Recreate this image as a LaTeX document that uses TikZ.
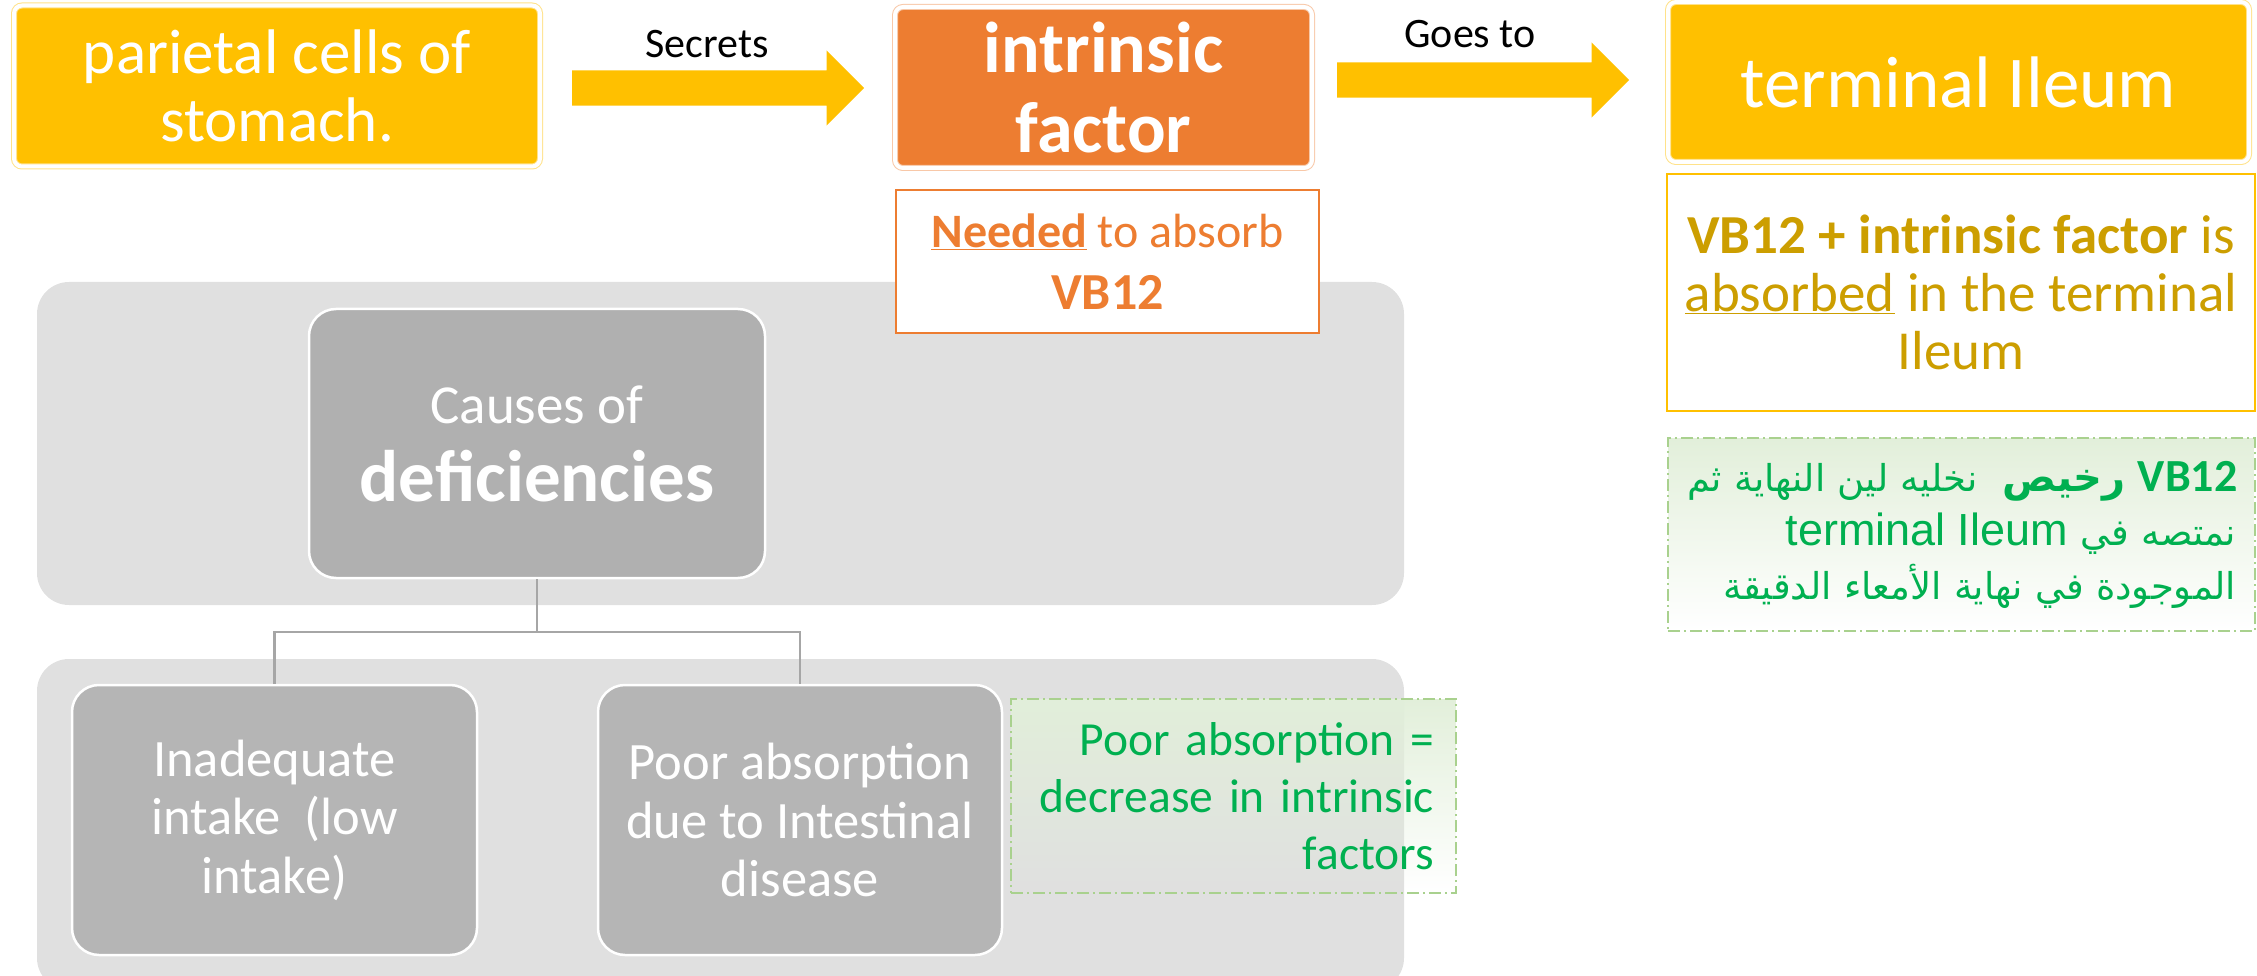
\documentclass[tikz,border=0pt]{standalone}
\usepackage{fontspec}
\setmainfont{Carlito}
\newfontfamily\arabicfont[Script=Arabic]{DejaVu Sans}
\newfontfamily\arialfont{Liberation Sans}
\TeXXeTstate=1
\usetikzlibrary{shapes,arrows,fadings}

\definecolor{yel}{HTML}{FFC000}
\definecolor{yelpale}{HTML}{FFE28A}
\definecolor{org}{HTML}{ED7D31}
\definecolor{orgpale}{HTML}{F8C8A8}
\definecolor{goldtxt}{HTML}{CC9E00}
\definecolor{grn}{HTML}{00B050}
\definecolor{grnline}{HTML}{A9D18E}
\definecolor{grnfill}{HTML}{E2EFDA}
\definecolor{panelgray}{HTML}{E0E0E0}
\definecolor{topgray}{HTML}{B0B0B0}
\definecolor{boxgray}{HTML}{B5B5B5}
\definecolor{linkgray}{HTML}{A6A6A6}
\tikzfading[name=notefade, top color=transparent!0, middle color=transparent!15, bottom color=transparent!100]

\begin{document}
\begin{tikzpicture}[x=1pt, y=-1pt]
\tikzstyle{boxy}=[rectangle, fill=yel, draw=yelpale, line width=1pt, double=white, double distance=4pt, rounded corners=8pt, inner sep=0pt, text=white, align=center]
\tikzstyle{boxo}=[boxy, fill=org, draw=orgpale]
\tikzstyle{boxline}=[rectangle, fill=white, line width=2.5pt, inner sep=0pt, align=center]
\tikzstyle{panel}=[rectangle, fill=panelgray, rounded corners=32pt, inner sep=0pt]
\tikzstyle{boxgr}=[rectangle, fill=boxgray, draw=white, line width=2.5pt, rounded corners=27pt, inner sep=0pt, text=white, align=center, minimum height=270pt]
\tikzstyle{notegreen}=[rectangle, draw=grnline, line width=2pt, dash pattern=on 12pt off 4pt on 2pt off 4pt, preaction={fill=grnfill, path fading=notefade}, inner ysep=0pt, text=grn, align=right]
\tikzstyle{arrowbig}=[single arrow, fill=yel, anchor=tail, inner xsep=0pt, inner ysep=17.5pt, minimum height=292pt, single arrow head extend=20pt, single arrow head indent=0pt, single arrow tip angle=90]
\tikzstyle{labelarrow}=[inner sep=0pt, anchor=base, font=\fontsize{42}{50}\selectfont]
\tikzstyle{linkstyle}=[draw=linkgray, line width=2.5pt]

\useasboundingbox (0,0) rectangle (2257,976);
\clip (0,0) rectangle (2257,976);

\node[panel, minimum width=1367pt, minimum height=323pt] (pantop) at (720.5,443.5) {};
\node[panel, minimum width=1367pt, minimum height=331pt] (panbot) at (720.5,824.5) {};

\node[boxy, minimum width=526pt, minimum height=161pt, font=\fontsize{63}{68}\selectfont] (pc) at (277,86) {parietal cells of\\stomach.};
\node[boxo, minimum width=417pt, minimum height=161pt, font=\fontsize{72}{80}\selectfont\bfseries] (ifac) at (1103.5,87.5) {intrinsic\\factor};
\node[boxy, minimum width=581pt, minimum height=160pt, font=\fontsize{73}{88}\selectfont] (til) at (1958.5,82) {terminal Ileum};
\node[arrowbig] (sec) at (572,88) {};
\node[arrowbig] (goes) at (1337,80) {};
\node[labelarrow] (seclab) at (707,58) {Secrets};
\node[labelarrow] (goeslab) at (1470,48) {Goes to};

\node[boxline, draw=org, text=org, minimum width=423pt, minimum height=143pt, font=\fontsize{48}{62}\selectfont] (need) at (1107.5,261.5) {\textbf{\underline{Needed}} to absorb\\{\fontsize{52}{62}\selectfont\bfseries VB12}};
\node[boxline, draw=yel, text=goldtxt, minimum width=588pt, minimum height=237pt, font=\fontsize{55}{58}\selectfont] (gold) at (1961,292.5) {\textbf{VB12 + intrinsic factor} is\\\underline{absorbed} in the terminal\\Ileum};
\node[notegreen, minimum width=587pt, minimum height=193pt, inner xsep=19pt, text width=549pt, font=\arabicfont\fontsize{37}{54}\selectfont] (arab) at (1961.5,534.5) {\mbox{\beginR\ {\bfseries\beginL{\rmfamily\fontsize{46}{54}\selectfont VB12}\endL{} {\fontsize{40}{54}\selectfont رخيص}}\ \ نخليه لين النهاية ثم\endR}\\\mbox{\beginR نمتصه في \beginL{\arialfont\fontsize{45}{54}\selectfont terminal Ileum}\endL\endR}\\\mbox{\beginR الموجودة في نهاية الأمعاء الدقيقة\endR}};

\node[boxgr, fill=topgray, minimum width=456pt, minimum height=269pt, font=\fontsize{55}{78}\selectfont] (causes) at (537,443.5) {Causes of\\{\fontsize{73}{78}\selectfont\bfseries deficiencies}};
\node[boxgr, minimum width=405pt, font=\fontsize{52.5}{58.5}\selectfont] (inad) at (274.5,820) {Inadequate\\intake\ \ (low\\intake)};
\node[boxgr, minimum width=404pt, font=\fontsize{52.5}{58.5}\selectfont] (poor) at (800,820) {Poor absorption\\due to Intestinal\\disease};
\node[notegreen, minimum width=445pt, minimum height=194pt, inner xsep=22pt, text width=401pt, font=\fontsize{47.5}{57}\selectfont] (note) at (1233.5,796) {Poor absorption =\\decrease in intrinsic\\factors};

\coordinate (fork) at (537,632);
\draw[linkstyle] (causes.south) -- (fork) -| (inad.north);
\draw[linkstyle] (fork) -| (poor.north);
\end{tikzpicture}
\end{document}
